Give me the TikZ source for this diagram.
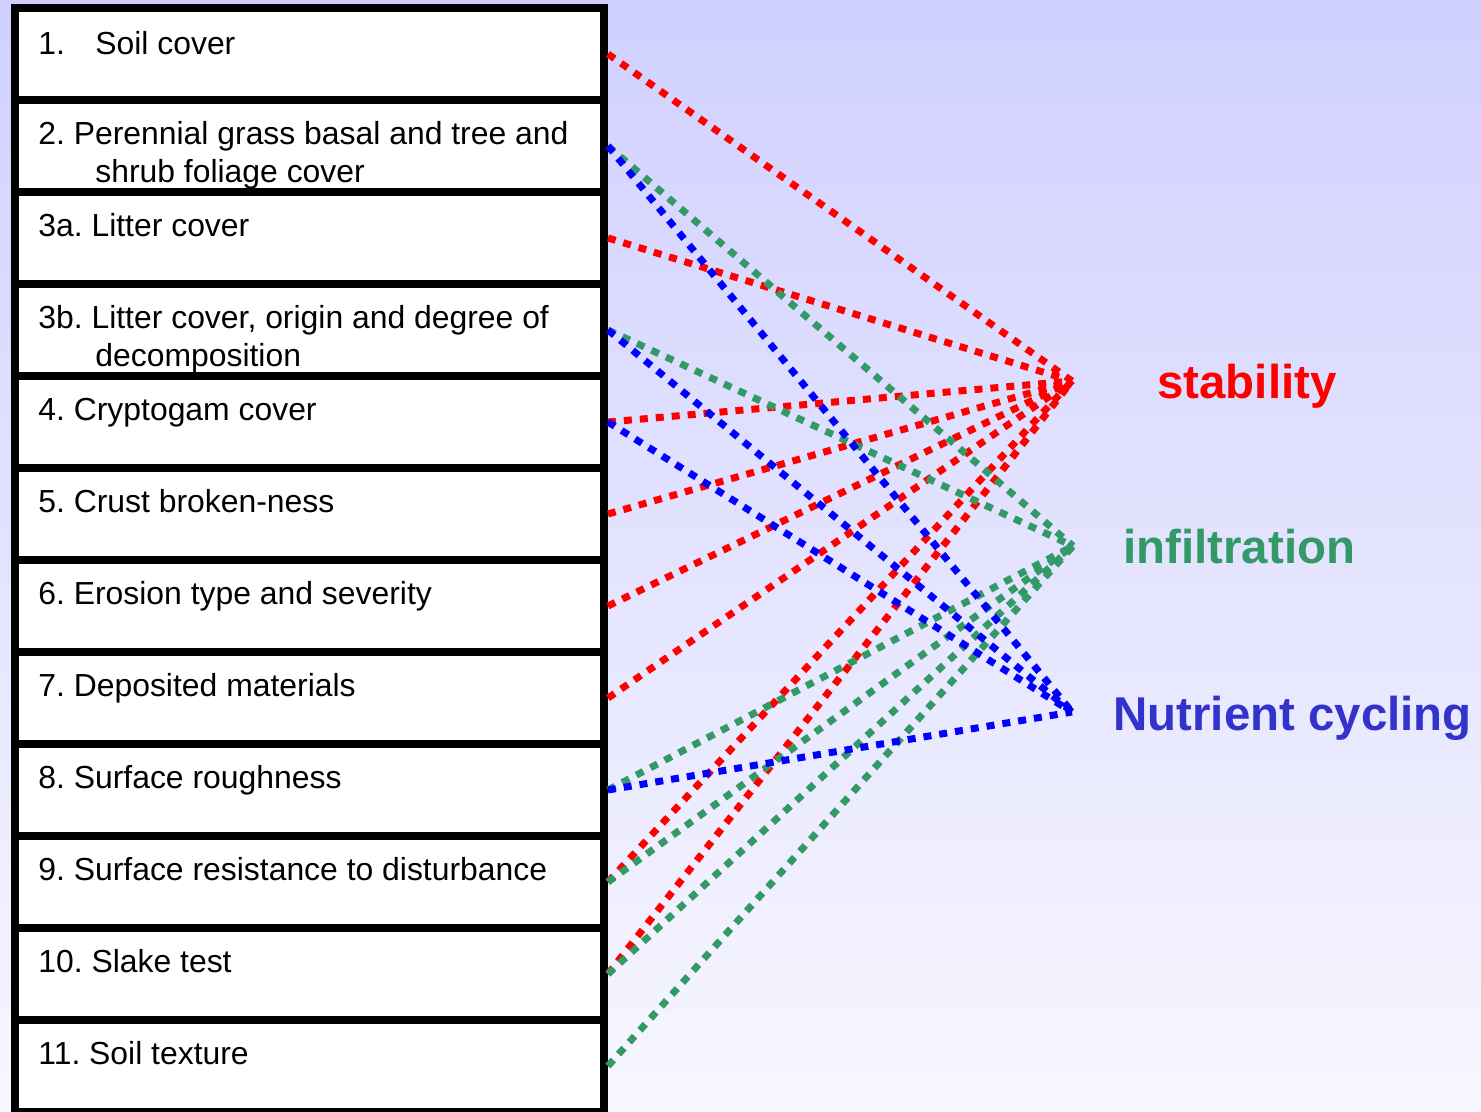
\documentclass[tikz,border=0pt]{standalone}
\usepackage{fontspec}
\setmainfont{Liberation Sans}
\usepackage{tikz}
\usetikzlibrary{positioning}
\frenchspacing

\definecolor{bgtop}{RGB}{208,208,255}
\definecolor{bgbot}{RGB}{247,247,255}
\definecolor{stabred}{HTML}{FF0000}
\definecolor{infgreen}{HTML}{339966}
\definecolor{nutblue}{HTML}{0000FF}
\definecolor{nutlabel}{HTML}{3333CC}

\begin{document}
\begin{tikzpicture}[x=0.02cm, y=-0.02cm,
    indic/.style = {shape=rectangle, draw, line width=0.16cm, fill=white,
      minimum width=11.78cm, minimum height=1.84cm, inner sep=0pt},
    item/.style = {anchor=base west, align=left, inner sep=0pt,
      font=\fontsize{18.15}{21.6}\selectfont},
    goal/.style = {anchor=base west, inner sep=0pt,
      font=\fontsize{27}{32}\selectfont\bfseries},
    link/.style = {line width=0.14cm, dash pattern=on 0.16cm off 0.16cm}]
  \useasboundingbox (0,0) rectangle (1481,1112);
  \shade[top color=bgtop, bottom color=bgbot] (0,0) rectangle (1481,1112);

  % indicator boxes
  \foreach \n [count=\i from 0] in {b1,b2,b3a,b3b,b4,b5,b6,b7,b8,b9,b10,b11}
    \node[indic] (\n) at (309.5,54+92*\i) {};

  \node[item] (t1) at ([shift={(27,50)}]b1.north west) {\makebox[1.14cm][l]{1.}Soil cover};
  % two-line items sit on their last baseline
  \node[item] (t2) at ([shift={(27,86)}]b2.north west)
    {2. Perennial grass basal and tree and\\\hspace*{1.14cm}shrub foliage cover};
  \node[item] (t3a) at ([shift={(27,48)}]b3a.north west) {3a. Litter cover};
  \node[item] (t3b) at ([shift={(27,86)}]b3b.north west)
    {3b. Litter cover, origin and degree of\\\hspace*{1.14cm}decomposition};
  \node[item] (t4) at ([shift={(27,48)}]b4.north west) {4. Cryptogam cover};
  \node[item] (t5) at ([shift={(27,48)}]b5.north west) {5. Crust broken-ness};
  \node[item] (t6) at ([shift={(27,48)}]b6.north west) {6. Erosion type and severity};
  \node[item] (t7) at ([shift={(27,48)}]b7.north west) {7. Deposited materials};
  \node[item] (t8) at ([shift={(27,48)}]b8.north west) {8. Surface roughness};
  \node[item] (t9) at ([shift={(27,48)}]b9.north west) {9. Surface resistance to disturbance};
  \node[item] (t10) at ([shift={(27,48)}]b10.north west) {10. Slake test};
  \node[item] (t11) at ([shift={(27,48)}]b11.north west) {11. Soil texture};

  % attributes
  \coordinate (stab) at (1072,381);
  \coordinate (infil) at (1073,546);
  \coordinate (nutr) at (1072,712);
  \node[goal, text=stabred] (lstab) at (1157,398) {stability};
  \node[goal, text=infgreen] (linfil) at (1123,563) {infiltration};
  \node[goal, text=nutlabel] (lnutr) at (1113,730) {Nutrient cycling};

  \foreach \b in {b1,b3a,b4,b5,b6,b7,b9,b10}
    \draw[link, stabred] (\b.east) -- (stab);
  \foreach \b in {b2,b3b,b8,b9,b10,b11}
    \draw[link, infgreen] (\b.east) -- (infil);
  \foreach \b in {b2,b3b,b4,b8}
    \draw[link, nutblue] (\b.east) -- (nutr);
\end{tikzpicture}
\end{document}
